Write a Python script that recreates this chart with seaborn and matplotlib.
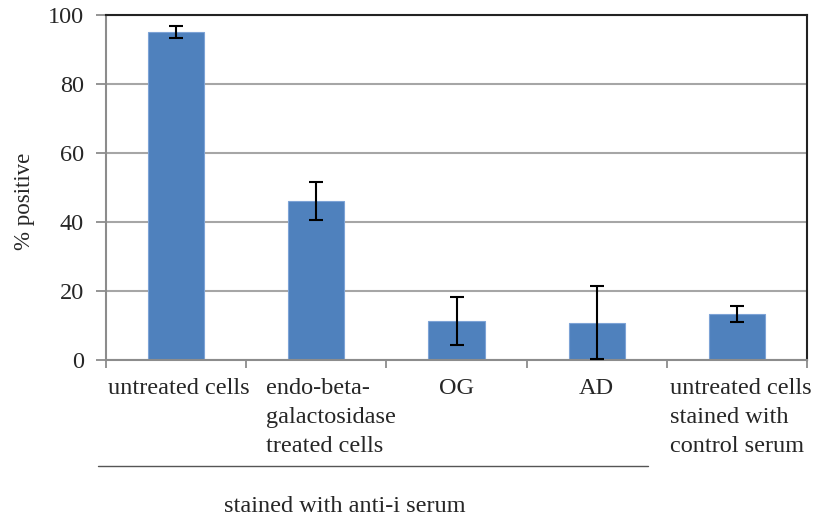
import pandas as pd
import matplotlib
matplotlib.use('Agg')
import matplotlib.pyplot as plt
import matplotlib.transforms as mtransforms
import seaborn as sns
from matplotlib.lines import Line2D

categories = ["untreated cells", "endo-beta-\ngalactosidase\ntreated cells", "OG", "AD",
              "untreated cells\nstained with\ncontrol serum"]
pct_positive = [95.0, 45.9, 11.2, 10.7, 13.2]
err = [1.7, 5.5, 7.0, 10.5, 2.2]
y_ticks = [0, 20, 40, 60, 80, 100]

sns.set_style("white")
plt.rcParams['font.family'] = ['Liberation Serif', 'DejaVu Serif']

df = pd.DataFrame({"group": categories, "pct": pct_positive})

fig = plt.figure(figsize=(8.15, 5.18), dpi=100)
ax = fig.add_axes([106 / 815, 1 - 359.5 / 518, 701 / 815, 344.5 / 518])

sns.barplot(data=df, x="group", y="pct", color="#4F81BD", width=0.4,
            errorbar=None, saturation=1, edgecolor="#7DA3D6", linewidth=0.8, ax=ax)
ax.errorbar(range(len(categories)), pct_positive, yerr=err, fmt="none",
            ecolor="black", elinewidth=1.5, capsize=5, capthick=1.5, zorder=5)

ax.set_ylim(0, 100)
ax.set_xlim(-0.5, len(categories) - 0.5)
ax.set_yticks(y_ticks)
ax.yaxis.grid(True, color="#a6a6a6", linewidth=1.5)
ax.set_axisbelow(True)

# category labels drawn as text so the wrapped ones can sit like Excel's
ax.set_xticks(range(len(categories)))
ax.set_xticklabels([""] * len(categories))
base = mtransforms.blended_transform_factory(ax.transData, ax.transAxes)
shifts = [3, 15, 0, 0, 4]
for i, (txt, dx) in enumerate(zip(categories, shifts)):
    tr = mtransforms.offset_copy(base, fig=fig, x=dx, y=-18, units="dots")
    ax.text(i, 0, txt, transform=tr, fontsize=17.5, ha="center", va="top",
            multialignment="left", linespacing=1.52)

ax.set_xticks([i - 0.5 for i in range(len(categories) + 1)], minor=True)
ax.tick_params(axis="x", which="major", length=0)
ax.tick_params(axis="x", which="minor", length=6, width=1.3, color="#8c8c8c", direction="out")
ax.tick_params(axis="y", length=7, width=1.3, color="#8c8c8c", direction="out", pad=9, labelsize=17.5)
ax.tick_params(axis="x", bottom=True, which="both")
ax.tick_params(axis="y", left=True)

for s in ["left", "bottom"]:
    ax.spines[s].set_color("#8c8c8c")
    ax.spines[s].set_linewidth(1.5)
for s in ["top", "right"]:
    ax.spines[s].set_color("#222222")
    ax.spines[s].set_linewidth(1.5)

ax.set_xlabel("")
ax.set_ylabel("% positive", fontsize=16.5)
ax.yaxis.set_label_coords(-0.101, 0.46)

fig.add_artist(Line2D([98 / 815, 648 / 815], [1 - 466 / 518, 1 - 466 / 518],
                      color="#555555", linewidth=1))
fig.text(345 / 815, 1 - 507 / 518, "stained with anti-i serum", fontsize=17.5,
         ha="center", va="center")

fig.savefig("out.png", dpi=100)
